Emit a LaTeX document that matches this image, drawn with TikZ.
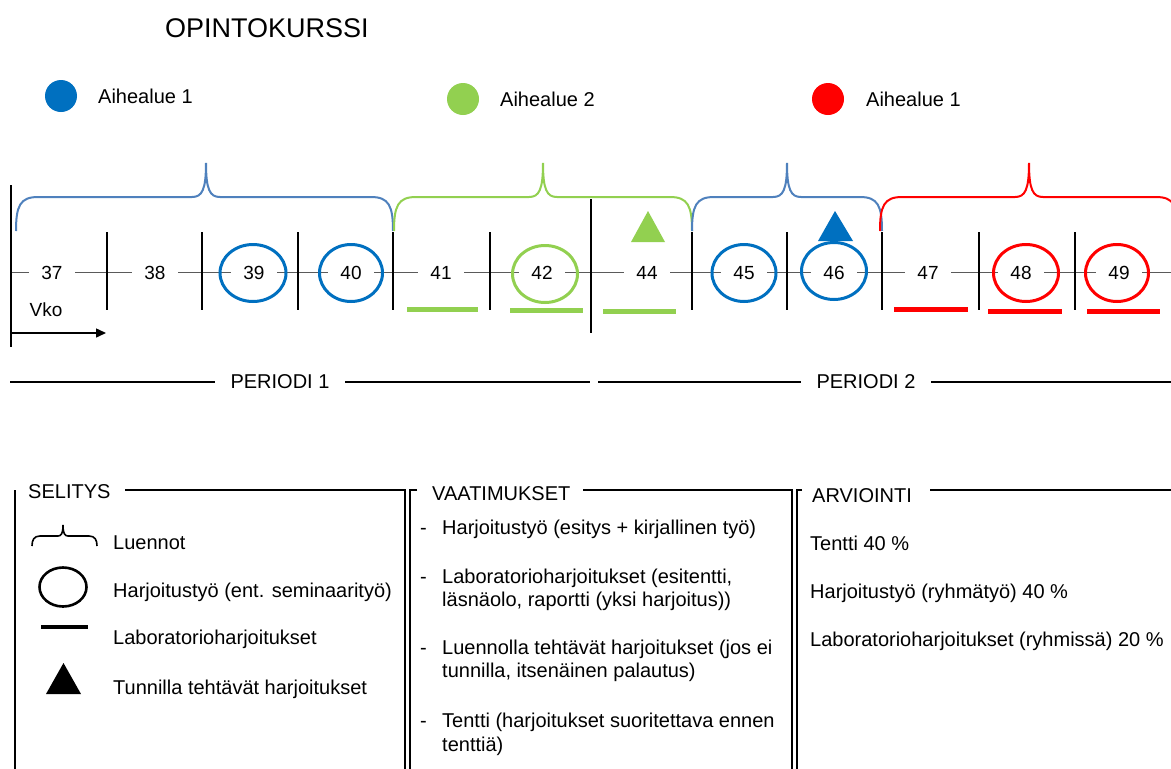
\documentclass[tikz,border=0pt]{standalone}
\usepackage{fontspec}
\setmainfont{Liberation Sans}
\usetikzlibrary{shapes.geometric,arrows.meta}

\definecolor{topicblue}{RGB}{0,112,192}
\definecolor{braceblue}{RGB}{79,129,189}
\definecolor{topicgreen}{RGB}{146,208,80}
\definecolor{topicred}{RGB}{255,0,0}
\definecolor{axisgray}{RGB}{90,90,90}

\tikzset{
  txt/.style={font=\fontsize{20}{24}\selectfont, inner sep=0pt, anchor=base west},
  title/.style={font=\fontsize{27}{30}\selectfont, inner sep=0pt, anchor=base west},
  num/.style={font=\fontsize{19}{19}\selectfont, fill=white, inner xsep=12pt, inner ysep=2pt},
  period/.style={font=\fontsize{20}{20}\selectfont, fill=white, inner xsep=16pt, inner ysep=2pt},
  ring/.style={ellipse, draw=#1, line width=3pt, minimum width=64pt, minimum height=57pt, inner sep=0pt},
  dot/.style={circle, fill=#1, minimum size=32pt, inner sep=0pt},
  labline/.style={draw=#1, line width=5pt},
  weekbar/.style={line width=1.6pt},
  mainbar/.style={line width=2.4pt},
  boxedge/.style={line width=1.5pt},
  bracepath/.style={draw=#1, line width=2pt},
}

% lecture brace: colour, left tip, peak, right tip
\newcommand{\lecturebrace}[4]{%
  \draw[bracepath=#1] (#2,231) .. controls (#2,206) and ({#2+4},197) .. ({#2+22},197)
    -- ({#3-14},197) .. controls ({#3-4},197) and (#3,190) .. (#3,163)
    .. controls (#3,190) and ({#3+4},197) .. ({#3+14},197)
    -- ({#4-22},197) .. controls ({#4-4},197) and (#4,206) .. (#4,231);}

\begin{document}
\begin{tikzpicture}[x=1pt,y=-1pt]
\useasboundingbox (0,0) rectangle (1171,769);
\clip (0,0) rectangle (1171,769);
\fill[white] (0,0) rectangle (1171,769);

% heading and topic legend
\node[title] (heading) at (165,37) {OPINTOKURSSI};
\node[dot=topicblue] (d1) at (61,96) {};
\node[txt] (t1) at (98,103) {Aihealue 1};
\node[dot=topicgreen] (d2) at (463,99) {};
\node[txt] (t2) at (500,106) {Aihealue 2};
\node[dot=topicred] (d3) at (828,99) {};
\node[txt] (t3) at (866,106) {Aihealue 1};

% lecture braces
\lecturebrace{braceblue}{16}{206}{393}
\lecturebrace{topicgreen}{394}{543}{692}
\lecturebrace{braceblue}{692}{787}{882}
\lecturebrace{topicred}{880}{1029}{1178}

% week axis
\coordinate (axL) at (11,272);
\coordinate (axR) at (1171,272);
\draw[axisgray, line width=0.9pt] (axL) -- (axR);

% week separators
\draw[mainbar] (11,185) -- (11,347);
\foreach \x in {107,202,298,393,490,692,787,882,979,1075}
  \draw[weekbar] (\x,232) -- (\x,310);
\draw[mainbar] (591,199) -- (591,333);

% week numbers
\node[num] (w37) at (52,273) {37};
\node[num] (w38) at (155,273) {38};
\node[num] (w39) at (254,273) {39};
\node[num] (w40) at (351,273) {40};
\node[num] (w41) at (441,273) {41};
\node[num] (w42) at (542,273) {42};
\node[num] (w44) at (647,273) {44};
\node[num] (w45) at (744,273) {45};
\node[num] (w46) at (834,273) {46};
\node[num] (w47) at (928,273) {47};
\node[num] (w48) at (1021,273) {48};
\node[num] (w49) at (1119,273) {49};

% group work rings
\node[ring=topicblue, minimum width=66pt] (r39) at (253,273) {};
\node[ring=topicblue, minimum width=63pt] (r40) at (351,273) {};
\node[ring=topicgreen, minimum width=65pt] (r42) at (545,274) {};
\node[ring=topicblue] (r45) at (744,273) {};
\node[ring=topicblue, minimum width=65pt] (r46) at (834,271) {};
\node[ring=topicred, minimum width=65pt] (r48) at (1026,273) {};
\node[ring=topicred, minimum width=63pt] (r49) at (1117,273) {};

% in-class exercises
\fill[topicgreen] (631,242) -- (648,211) -- (665,242) -- cycle;
\fill[topicblue] (818,241) -- (835,211) -- (853,241) -- cycle;

% laboratory sessions
\draw[labline=topicgreen] (407,309) -- (478,309);
\draw[labline=topicgreen] (510,310.5) -- (583,310.5);
\draw[labline=topicgreen] (603,311) -- (676,311);
\draw[labline=topicred] (894,309) -- (968,309);
\draw[labline=topicred] (988,311) -- (1062,311);
\draw[labline=topicred] (1087,311) -- (1160,311);

% week direction
\node[font=\fontsize{19}{19}\selectfont, inner sep=0pt] (vko) at (46,310) {Vko};
\coordinate (arrA) at (11,333);
\coordinate (arrB) at (106,333);
\draw[line width=1.5pt, -{Triangle[length=10pt,width=9pt]}] (arrA) -- (arrB);

% periods
\coordinate (p1a) at (10,382);
\coordinate (p1b) at (590,382);
\coordinate (p2a) at (598,382);
\coordinate (p2b) at (1171,382);
\draw[line width=1.4pt] (p1a) -- (p1b);
\draw[line width=1.4pt] (p2a) -- (p2b);
\node[period] (per1) at (280,382) {PERIODI 1};
\node[period] (per2) at (866,382) {PERIODI 2};

% bottom panels
\draw[boxedge] (15,490) -- (15,769);
\draw[boxedge] (125,490) -- (405,490) -- (405,769);
\draw[boxedge] (417,490) -- (410,490) -- (410,769);
\draw[boxedge] (583,490) -- (792,490) -- (792,769);
\draw[boxedge] (802,490) -- (797,490) -- (797,769);
\draw[boxedge] (930,490) -- (1171,490);

% legend panel
\node[txt] (selitys) at (28,498) {SELITYS};
\draw[line width=1.6pt] (32,546) .. controls (32,540) and (34,536) .. (40,536)
  -- (58,536) .. controls (61,536) and (63,534) .. (63,525)
  .. controls (63,534) and (65,536) .. (68,536)
  -- (89,536) .. controls (95,536) and (97,540) .. (97,546);
\node[txt] (lg1) at (113,549) {Luennot};
\node[ellipse, draw, line width=2.6pt, minimum width=47pt, minimum height=39pt, inner sep=0pt] (lgring) at (63,587) {};
\node[txt] (lg2) at (113,597) {Harjoitustyö (ent. seminaarityö)};
\draw[line width=3.5pt] (41,627) -- (88,627);
\node[txt] (lg3) at (113,644) {Laboratorioharjoitukset};
\fill (46,694) -- (63.5,663) -- (81,694) -- cycle;
\node[txt] (lg4) at (113,694) {Tunnilla tehtävät harjoitukset};

% requirements panel
\node[txt] (vaat) at (432,500) {VAATIMUKSET};
\foreach \y in {534,583,654,727}
  \node[txt] at (420,\y) {-};
\node[txt] (v1) at (442,534) {Harjoitustyö (esitys + kirjallinen työ)};
\node[txt] (v2a) at (442,583) {Laboratorioharjoitukset (esitentti,};
\node[txt] (v2b) at (442,606) {läsnäolo, raportti (yksi harjoitus))};
\node[txt] (v3a) at (442,654) {Luennolla tehtävät harjoitukset (jos ei};
\node[txt] (v3b) at (442,677) {tunnilla, itsenäinen palautus)};
\node[txt] (v4a) at (442,727) {Tentti (harjoitukset suoritettava ennen};
\node[txt] (v4b) at (442,751) {tenttiä)};

% assessment panel
\node[txt] (arv) at (812,502) {ARVIOINTI};
\node[txt] (a1) at (810,550) {Tentti 40 \%};
\node[txt] (a2) at (810,598) {Harjoitustyö (ryhmätyö) 40 \%};
\node[txt] (a3) at (810,646) {Laboratorioharjoitukset (ryhmissä) 20 \%};
\end{tikzpicture}
\end{document}
